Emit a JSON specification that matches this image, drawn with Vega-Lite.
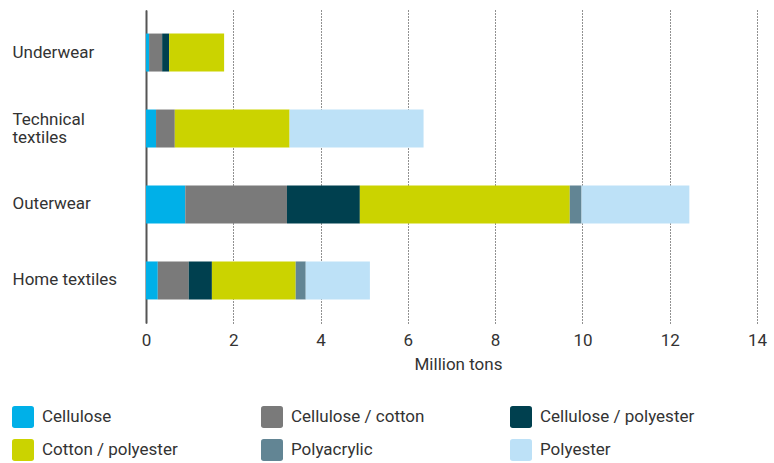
{
  "$schema": "https://vega.github.io/schema/vega-lite/v6.json",
  "width": 611,
  "height": 313,
  "autosize": {"type": "none"},
  "padding": {"left": 146, "top": 10, "right": 17, "bottom": 140},
  "background": "white",
  "config": {
    "view": {"stroke": null},
    "font": "Roboto, sans-serif"
  },
  "data": {
    "values": [
      {"use": "Underwear", "fibre": "Cellulose", "mt": 0.07},
      {"use": "Underwear", "fibre": "Cellulose / cotton", "mt": 0.30},
      {"use": "Underwear", "fibre": "Cellulose / polyester", "mt": 0.16},
      {"use": "Underwear", "fibre": "Cotton / polyester", "mt": 1.26},
      {"use": "Technical textiles", "fibre": "Cellulose", "mt": 0.23},
      {"use": "Technical textiles", "fibre": "Cellulose / cotton", "mt": 0.43},
      {"use": "Technical textiles", "fibre": "Cotton / polyester", "mt": 2.63},
      {"use": "Technical textiles", "fibre": "Polyester", "mt": 3.07},
      {"use": "Outerwear", "fibre": "Cellulose", "mt": 0.90},
      {"use": "Outerwear", "fibre": "Cellulose / cotton", "mt": 2.33},
      {"use": "Outerwear", "fibre": "Cellulose / polyester", "mt": 1.67},
      {"use": "Outerwear", "fibre": "Cotton / polyester", "mt": 4.81},
      {"use": "Outerwear", "fibre": "Polyacrylic", "mt": 0.27},
      {"use": "Outerwear", "fibre": "Polyester", "mt": 2.47},
      {"use": "Home textiles", "fibre": "Cellulose", "mt": 0.27},
      {"use": "Home textiles", "fibre": "Cellulose / cotton", "mt": 0.71},
      {"use": "Home textiles", "fibre": "Cellulose / polyester", "mt": 0.53},
      {"use": "Home textiles", "fibre": "Cotton / polyester", "mt": 1.92},
      {"use": "Home textiles", "fibre": "Polyacrylic", "mt": 0.23},
      {"use": "Home textiles", "fibre": "Polyester", "mt": 1.47}
    ]
  },
  "mark": {"type": "bar"},
  "encoding": {
    "y": {
      "field": "use",
      "type": "nominal",
      "sort": ["Underwear", "Technical textiles", "Outerwear", "Home textiles"],
      "scale": {"paddingInner": 0.5, "paddingOuter": 0.31},
      "axis": {
        "title": null,
        "ticks": false,
        "tickSize": 0,
        "domain": true,
        "domainColor": "#555555",
        "domainWidth": 2,
        "labelAlign": "left",
        "labelPadding": 134,
        "labelFontSize": 17,
        "labelColor": "#333333",
        "labelLineHeight": 18,
        "labelLimit": 200,
        "labelOffset": {"condition": {"test": "datum.label == 'Technical textiles'", "value": -9}, "value": 0},
        "labelExpr": "datum.label == 'Technical textiles' ? ['Technical', 'textiles'] : datum.label"
      }
    },
    "x": {
      "field": "mt",
      "type": "quantitative",
      "stack": "zero",
      "scale": {"domain": [0, 14], "nice": false},
      "axis": {
        "title": "Million tons",
        "values": [0, 2, 4, 6, 8, 10, 12, 14],
        "domain": false,
        "ticks": false,
        "grid": true,
        "gridColor": "#222222",
        "gridDash": [1, 2],
        "gridWidth": 1,
        "labelFontSize": 17,
        "labelColor": "#333333",
        "labelPadding": 9,
        "labelFlush": false,
        "titleFontSize": 17,
        "titleFontWeight": "normal",
        "titleColor": "#333333",
        "titlePadding": 8,
        "titleX": 312
      }
    },
    "color": {
      "field": "fibre",
      "type": "nominal",
      "scale": {
        "domain": ["Cellulose", "Cellulose / cotton", "Cellulose / polyester", "Cotton / polyester", "Polyacrylic", "Polyester"],
        "range": ["#00b0e8", "#7a7a7a", "#00404f", "#cbd300", "#628594", "#bde1f7"]
      },
      "legend": {
        "title": null,
        "orient": "none",
        "legendX": -134,
        "legendY": 396,
        "direction": "horizontal",
        "columns": 3,
        "gridAlign": "all",
        "columnPadding": 64,
        "rowPadding": 11,
        "padding": 0,
        "symbolType": "M-0.75,-1H0.75Q1,-1 1,-0.75V0.75Q1,1 0.75,1H-0.75Q-1,1 -1,0.75V-0.75Q-1,-1 -0.75,-1Z",
        "symbolSize": 484,
        "symbolStrokeWidth": 0,
        "symbolOpacity": 1,
        "labelFontSize": 17,
        "labelColor": "#333333",
        "labelOffset": 8,
        "labelLimit": 250
      }
    }
  }
}
